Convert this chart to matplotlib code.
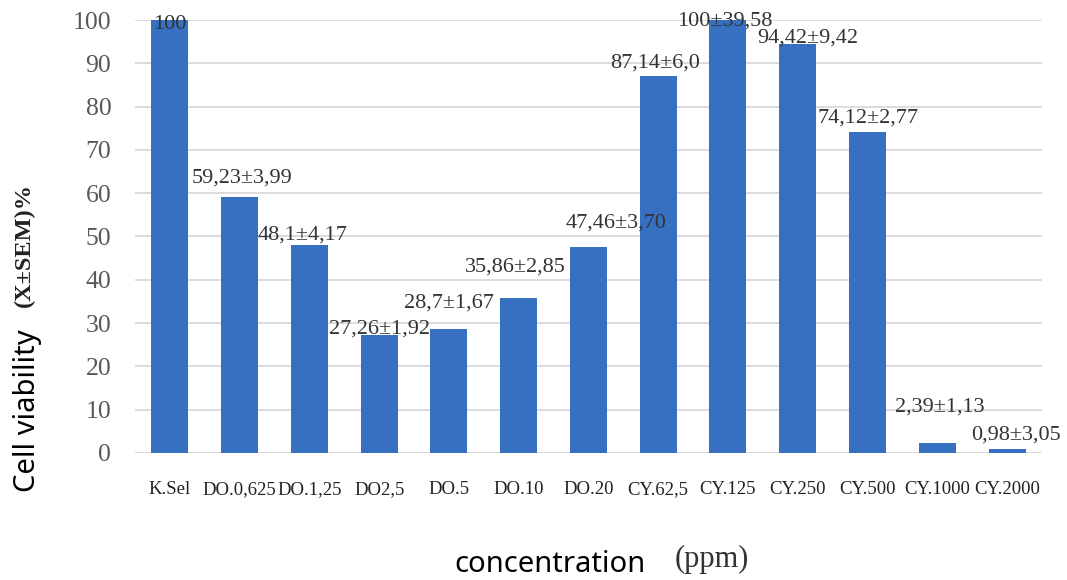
import numpy as np
import matplotlib.pyplot as plt

# Cell viability per treatment group
groups = ["K.Sel", "DO.0,625", "DO.1,25", "DO2,5", "DO.5", "DO.10", "DO.20",
          "CY.62,5", "CY.125", "CY.250", "CY.500", "CY.1000", "CY.2000"]
viability = [100, 59.23, 48.1, 27.26, 28.7, 35.86, 47.46,
             87.14, 100, 94.42, 74.12, 2.39, 0.98]
sem_text = [None, "3,99", "4,17", "1,92", "1,67", "2,85", "3,70",
            "6,0", "39,58", "9,42", "2,77", "1,13", "3,05"]

# where each value label sits (baseline height, sideways nudge in bar units)
label_y = [97.9, 62.4, 49.2, 27.7, 33.7, 41.8, 52.0, 89.1, 98.8, 94.7, 76.4, 9.5, 3.0]
label_dx = [0, 0.03, -0.1, 0, 0, -0.05, 0.4, -0.05, -0.04, 0.14, 0, 0.04, 0.13]

BLUE = "#3770c0"
SERIF = "Liberation Serif"

fig = plt.figure(figsize=(10.67, 5.8), dpi=100)
ax = fig.add_axes([0.1265, 0.219, 0.85, 0.7465])

x = np.arange(len(groups))
ax.bar(x, viability, width=0.53, color=BLUE, zorder=3)

ax.set_xlim(-0.5, len(groups) - 0.5)
ax.set_ylim(0, 100)
ax.set_yticks(np.arange(0, 101, 10))
ax.grid(axis="y", color="#d9d9d9", linewidth=1.3, zorder=0)
for s in ax.spines.values():
    s.set_visible(False)
ax.axhline(0, color="#d9d9d9", linewidth=1.3, zorder=1)
ax.tick_params(length=0)
ax.tick_params(axis="y", pad=17)
ax.tick_params(axis="x", pad=20)

ax.set_xticks(x)
ax.set_xticklabels(groups, fontfamily=SERIF, fontsize=13.5, color="#222222")
for t in ax.get_yticklabels():
    t.set_fontfamily(SERIF)
    t.set_fontsize(18.5)
    t.set_color("#595959")

for i, v in enumerate(viability):
    txt = f"{v:g}".replace(".", ",")
    if sem_text[i] is not None:
        txt += "\u00b1" + sem_text[i]
    ax.text(i + label_dx[i], label_y[i], txt, ha="center", va="baseline",
            fontfamily=SERIF, fontsize=16, color="#333333", zorder=4, clip_on=False)

# axis titles
fig.text(0.026, 1 - 411 / 580, "Cell viability", rotation=90, ha="center", va="center",
         fontfamily="Noto Sans", fontsize=21, color="black")
fig.text(0.023, 1 - 245 / 580, "(X\u00b1SEM)%", rotation=90, ha="center", va="center",
         fontfamily=SERIF, fontweight="bold", fontsize=17.5, color="#222222")
fig.text(550 / 1067, 1 - 565 / 580, "concentration", ha="center", va="center",
         fontfamily="Noto Sans", fontsize=21, color="black")
fig.text(712 / 1067, 1 - 559 / 580, "(ppm)", ha="center", va="center",
         fontfamily=SERIF, fontsize=22, color="#333333")

fig.savefig("out.png", dpi=100)
